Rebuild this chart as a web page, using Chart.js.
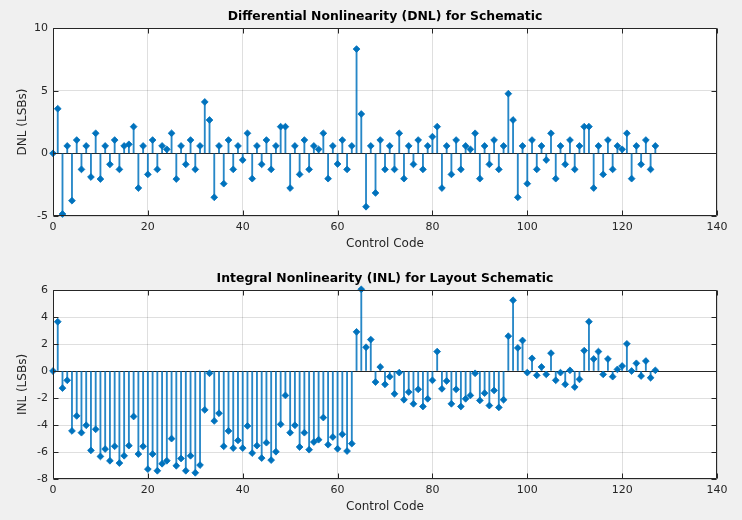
<!DOCTYPE html>
<html>
<head>
<meta charset="utf-8">
<script src="https://cdn.jsdelivr.net/npm/chart.js@4.4.1/dist/chart.umd.min.js"></script>
<style>
html,body{margin:0;padding:0;background:#f0f0f0;width:742px;height:520px;overflow:hidden;}
.wrap{position:absolute;left:0;width:742px;height:260px;}
#w1{top:0;}
#w2{top:260px;}
</style>
</head>
<body>
<div class="wrap" id="w1"><canvas id="c1"></canvas></div>
<div class="wrap" id="w2"><canvas id="c2"></canvas></div>
<script>
// ---- Data ----
const codes = Array.from({length: 128}, (_, i) => i);

const dnlValues = [
  0, 3.56, -4.84, 0.59, -3.78, 1.06, -1.28, 0.59, -1.89, 1.6, -2.05, 0.59, -0.88, 1.06, -1.28, 0.59,
  0.72, 2.13, -2.77, 0.59, -1.68, 1.06, -1.28, 0.59, 0.32, 1.6, -2.05, 0.59, -0.88, 1.06, -1.28, 0.59,
  4.1, 2.66, -3.51, 0.59, -2.42, 1.06, -1.28, 0.59, -0.53, 1.6, -2.02, 0.59, -0.88, 1.06, -1.28, 0.59,
  2.13, 2.13, -2.77, 0.59, -1.68, 1.06, -1.28, 0.59, 0.32, 1.6, -2.02, 0.59, -0.85, 1.06, -1.28, 0.59,
  8.32, 3.14, -4.26, 0.59, -3.16, 1.06, -1.28, 0.59, -1.28, 1.6, -2.02, 0.59, -0.88, 1.06, -1.28, 0.59,
  1.33, 2.13, -2.77, 0.59, -1.68, 1.06, -1.28, 0.59, 0.32, 1.6, -2.02, 0.59, -0.88, 1.06, -1.28, 0.59,
  4.76, 2.66, -3.51, 0.59, -2.42, 1.06, -1.28, 0.59, -0.53, 1.6, -2.02, 0.59, -0.88, 1.06, -1.28, 0.59,
  2.13, 2.13, -2.77, 0.59, -1.68, 1.06, -1.28, 0.59, 0.32, 1.6, -2.02, 0.59, -0.88, 1.06, -1.28, 0.59
];

const inlValues = [
  0, 3.65, -1.27, -0.69, -4.44, -3.33, -4.57, -4.02, -5.88, -4.32, -6.33, -5.78, -6.65, -5.58, -6.82, -6.28,
  -5.53, -3.37, -6.15, -5.58, -7.27, -6.15, -7.39, -6.87, -6.65, -5.01, -7.02, -6.48, -7.39, -6.28, -7.54, -6.97,
  -2.88, -0.17, -3.70, -3.13, -5.58, -4.44, -5.71, -5.14, -5.71, -4.07, -6.08, -5.53, -6.45, -5.31, -6.60, -5.98,
  -3.95, -1.81, -4.57, -4.02, -5.63, -4.57, -5.83, -5.26, -5.09, -3.45, -5.46, -4.89, -5.76, -4.69, -5.93, -5.38,
  2.90, 6.05, 1.76, 2.33, -0.82, 0.30, -0.99, -0.42, -1.69, -0.12, -2.13, -1.56, -2.43, -1.36, -2.63, -2.06,
  -0.69, 1.44, -1.32, -0.74, -2.43, -1.36, -2.63, -2.06, -1.81, -0.17, -2.18, -1.64, -2.56, -1.44, -2.70, -2.13,
  2.58, 5.24, 1.71, 2.26, -0.12, 0.94, -0.32, 0.30, -0.25, 1.32, -0.69, -0.12, -0.99, 0.05, -1.19, -0.62,
  1.51, 3.65, 0.89, 1.44, -0.25, 0.89, -0.42, 0.12, 0.37, 2.01, 0.0, 0.57, -0.37, 0.74, -0.50, 0.05
];

const xTicks = [0, 20, 40, 60, 80, 100, 120, 140];
const dnlTicks = [-5, 0, 5, 10];
const inlTicks = [-8, -6, -4, -2, 0, 2, 4, 6];

const dnlTitle = 'Differential Nonlinearity (DNL) for Schematic';
const inlTitle = 'Integral Nonlinearity (INL) for Layout Schematic';
const xLabel = 'Control Code';
const dnlLabel = 'DNL (LSBs)';
const inlLabel = 'INL (LSBs)';

// ---- Style ----
const BLUE = '#0072BD';
const STEM = 'rgba(0,114,189,0.85)';
const AXC = '#262626';
const GRID = 'rgba(38,38,38,0.15)';
const FONT = '"DejaVu Sans", sans-serif';

Chart.defaults.font.family = FONT;
Chart.defaults.color = AXC;

const matlabFrame = {
  id: 'matlabFrame',
  beforeDraw(chart) {
    const {ctx, chartArea: a} = chart;
    ctx.save();
    ctx.fillStyle = '#ffffff';
    ctx.fillRect(a.left, a.top, a.right - a.left, a.bottom - a.top);
    ctx.restore();
  },
  beforeDatasetsDraw(chart) {
    const {ctx, chartArea: a, scales} = chart;
    const y0 = Math.round(scales.y.getPixelForValue(0)) + 0.5;
    ctx.save();
    ctx.strokeStyle = AXC;
    ctx.lineWidth = 1;
    ctx.beginPath();
    ctx.moveTo(a.left, y0);
    ctx.lineTo(a.right, y0);
    ctx.stroke();
    ctx.restore();
  },
  afterDraw(chart, args, opts) {
    const {ctx, chartArea: a, scales} = chart;
    const L = Math.round(a.left) + 0.5, R = Math.round(a.right) - 0.5;
    const T = Math.round(a.top) + 0.5, B = Math.round(a.bottom) - 0.5;
    const tl = 5;
    ctx.save();
    ctx.strokeStyle = AXC;
    ctx.lineWidth = 1;
    ctx.beginPath();
    ctx.rect(L, T, R - L, B - T);
    scales.x.ticks.forEach(t => {
      const px = Math.round(scales.x.getPixelForValue(t.value)) + 0.5;
      ctx.moveTo(px, B); ctx.lineTo(px, B - tl);
      ctx.moveTo(px, T); ctx.lineTo(px, T + tl);
    });
    scales.y.ticks.forEach(t => {
      const py = Math.round(scales.y.getPixelForValue(t.value)) + 0.5;
      ctx.moveTo(L, py); ctx.lineTo(L + tl, py);
      ctx.moveTo(R, py); ctx.lineTo(R - tl, py);
    });
    ctx.stroke();
    // axes title
    ctx.fillStyle = '#000000';
    ctx.font = 'bold 12.4px ' + FONT;
    ctx.textAlign = 'center';
    ctx.textBaseline = 'middle';
    ctx.fillText(opts.title, (a.left + a.right) / 2, a.top - opts.titleGap);
    ctx.restore();
  }
};

function makeChart(canvasId, values, yTicks, title, yLabel, cfg) {
  const pts = codes.map((c, i) => ({x: c, y: values[i]}));
  return new Chart(document.getElementById(canvasId), {
    type: 'scatter',
    data: {
      datasets: [
        {
          type: 'scatter',
          data: pts,
          order: 0,
          pointStyle: 'rectRot',
          pointRadius: 3.4,
          pointBorderWidth: 0.8,
          backgroundColor: BLUE,
          borderColor: BLUE,
          clip: false
        },
        {
          type: 'bar',
          data: pts,
          order: 1,
          backgroundColor: STEM,
          borderWidth: 0,
          barThickness: 1.2,
          grouped: false,
          clip: false
        }
      ]
    },
    options: {
      responsive: true,
      maintainAspectRatio: false,
      animation: false,
      events: [],
      layout: {padding: {left: 0, right: 25, top: cfg.top, bottom: 0}},
      plugins: {
        legend: {display: false},
        tooltip: {enabled: false},
        title: {display: false},
        matlabFrame: {title: title, titleGap: cfg.titleGap}
      },
      scales: {
        x: {
          type: 'linear',
          min: xTicks[0],
          max: xTicks[xTicks.length - 1],
          offset: false,
          afterBuildTicks: s => { s.ticks = xTicks.map(v => ({value: v})); },
          afterFit: s => { s.height = cfg.xh; },
          grid: {color: GRID, drawTicks: false, offset: false, lineWidth: 1},
          border: {display: false},
          ticks: {padding: 5, font: {size: 11}, color: AXC, maxRotation: 0, autoSkip: false},
          title: {display: true, text: xLabel, font: {size: 12}, color: AXC, padding: {top: 0, bottom: cfg.xtPad}}
        },
        y: {
          type: 'linear',
          min: yTicks[0],
          max: yTicks[yTicks.length - 1],
          afterBuildTicks: s => { s.ticks = yTicks.map(v => ({value: v})); },
          afterFit: s => { s.width = 53; },
          grid: {color: GRID, drawTicks: false, lineWidth: 1},
          border: {display: false},
          ticks: {padding: 5, font: {size: 11}, color: AXC, autoSkip: false},
          title: {display: true, text: yLabel, font: {size: 12}, color: AXC, padding: {top: 16, bottom: 0}}
        }
      }
    },
    plugins: [matlabFrame]
  });
}

makeChart('c1', dnlValues, dnlTicks, dnlTitle, dnlLabel, {top: 28, xh: 44, xtPad: 8.8, titleGap: 11});
makeChart('c2', inlValues, inlTicks, inlTitle, inlLabel, {top: 30, xh: 41, xtPad: 5.8, titleGap: 11});
</script>
</body>
</html>
